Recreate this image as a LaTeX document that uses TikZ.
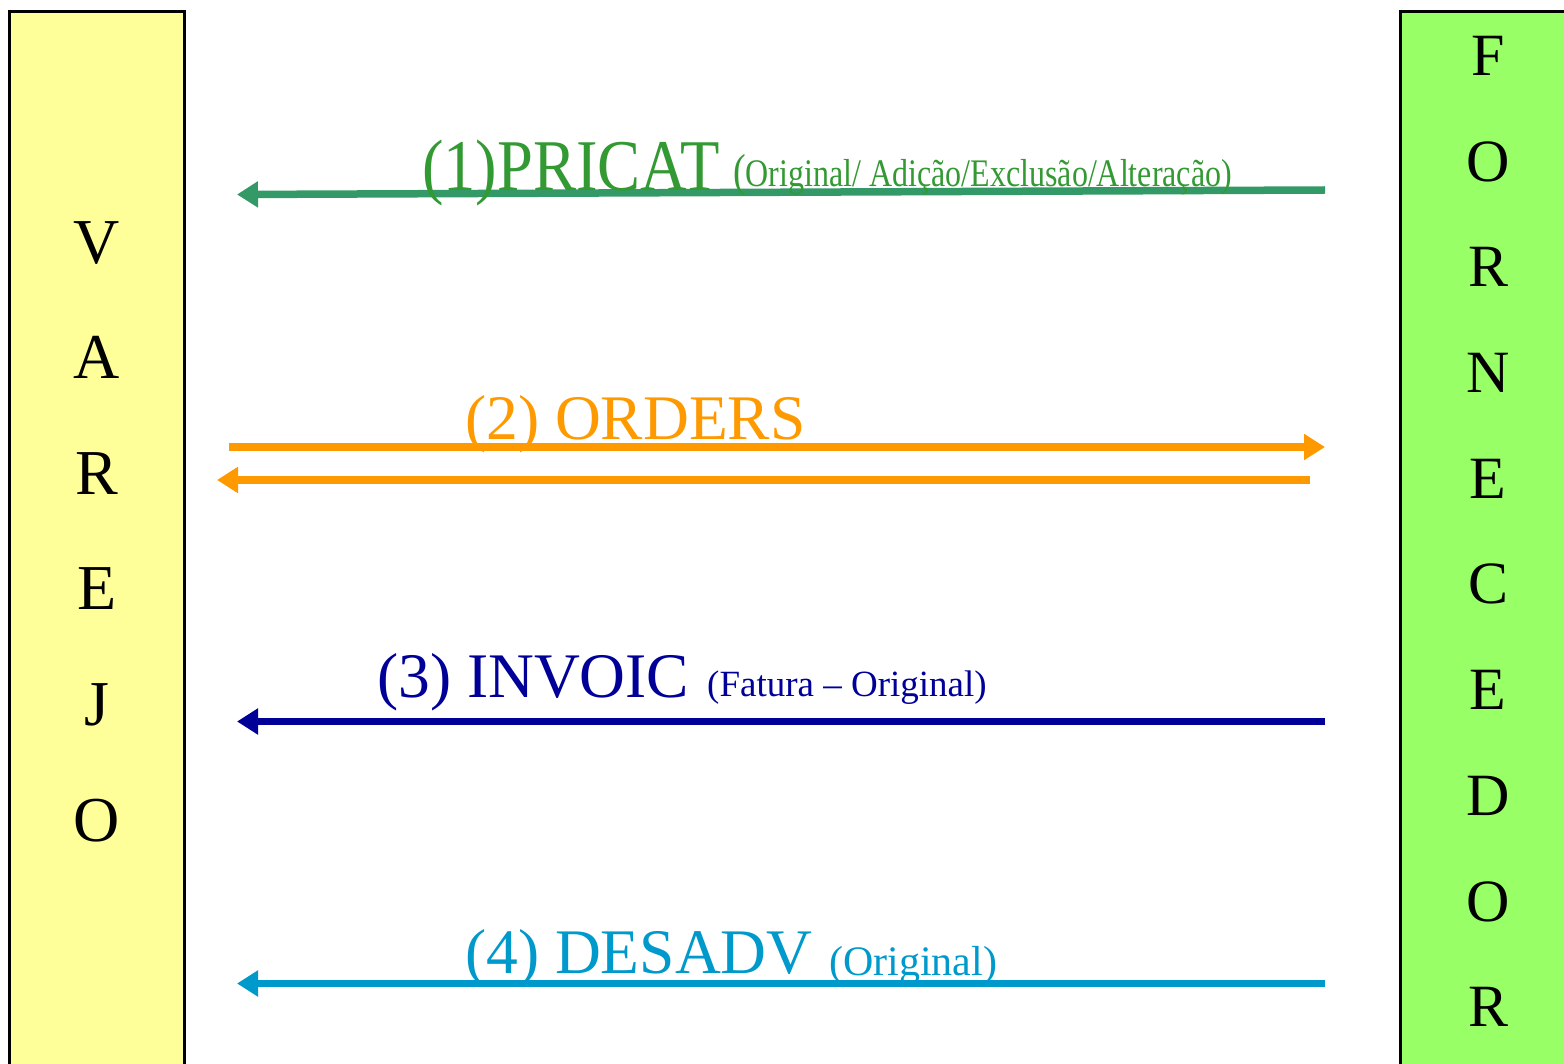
\documentclass[tikz,border=0pt]{standalone}
\usepackage{fontspec}
\setmainfont{Liberation Serif}
\usepackage{xcolor}
\usetikzlibrary{arrows.meta, positioning}
\definecolor{varejoyellow}{HTML}{FFFF99}
\definecolor{fornecgreen}{HTML}{99FF66}
\definecolor{pricattext}{HTML}{339933}
\definecolor{pricatline}{HTML}{339966}
\definecolor{ordersorange}{HTML}{FF9900}
\definecolor{invoicnavy}{HTML}{000099}
\definecolor{desadvblue}{HTML}{0099CC}
\tikzset{
partner/.style={
    rectangle,
    draw=black,
    line width=3pt,
    outer sep=0pt,
    anchor=north west,
    minimum height=1100pt
},
letters/.style={
    align=center,
    anchor=north,
    inner sep=0pt
},
msg/.style={
    anchor=base west,
    inner sep=0pt,
    font=\fontsize{63.5}{63.5}\selectfont
},
note/.style={
    anchor=base west,
    inner sep=0pt
},
flow/.style={
    line width=7.5pt,
    -{Triangle[length=21pt, width=25pt]}
}}

\begin{document}
\begin{tikzpicture}[x=1pt, y=-1pt]
    \useasboundingbox (0,0) rectangle (1564,1064);

    % partners
    \node[partner, fill=varejoyellow, minimum width=175pt] (varejo) at (9.5,12) {};
    \node[partner, fill=fornecgreen, minimum width=200pt] (fornecedor) at (1400.5,11.5) {};

    \node[letters, font=\fontsize{64}{115.6}\selectfont] (varejotxt) at (97,221)
        {V\\A\\R\\E\\J\\O};
    \node[letters, font=\fontsize{60}{105.7}\selectfont] (fornecedortxt) at (1488,36)
        {F\\O\\R\\N\\E\\C\\E\\D\\O\\R};

    % message end points
    \coordinate (pricatF) at (1325,190);
    \coordinate (pricatV) at (237,194.5);
    \coordinate (ordersV) at (229,447);
    \coordinate (ordersF) at (1325,447);
    \coordinate (ordrspF) at (1310,480);
    \coordinate (ordrspV) at (217,480);
    \coordinate (invoicF) at (1325,721.5);
    \coordinate (invoicV) at (237,721.5);
    \coordinate (desadvF) at (1325,983.5);
    \coordinate (desadvV) at (237,983.5);

    % messages
    \draw[flow, pricatline] (pricatF) -- (pricatV);
    \draw[flow, ordersorange] (ordersV) -- (ordersF);
    \draw[flow, ordersorange] (ordrspF) -- (ordrspV);
    \draw[flow, invoicnavy] (invoicF) -- (invoicV);
    \draw[flow, desadvblue] (desadvF) -- (desadvV);

    % labels
    \node[msg, text=pricattext, yscale=1.13, font=\fontsize{64.5}{64.5}\selectfont] (pricat) at (422,191) {(1)PRICAT};
    \node[note, text=pricattext, yscale=1.22, font=\fontsize{32}{32}\selectfont] (pricatnote) at (733,187)
        {{\fontsize{38}{38}\selectfont(}Original/ Adição/Exclusão/Alteração)};
    \node[msg, text=ordersorange] (orders) at (465,440) {(2) ORDERS};
    \node[msg, text=invoicnavy] (invoic) at (377,697) {(3) INVOIC};
    \node[note, text=invoicnavy, font=\fontsize{37}{37}\selectfont] (invoicnote) at (707,696)
        {(Fatura – Original)};
    \node[msg, text=desadvblue] (desadv) at (465,973) {(4) DESADV};
    \node[note, text=desadvblue, font=\fontsize{42}{42}\selectfont] (desadvnote) at (829,975)
        {(Original)};

\end{tikzpicture}
\end{document}
